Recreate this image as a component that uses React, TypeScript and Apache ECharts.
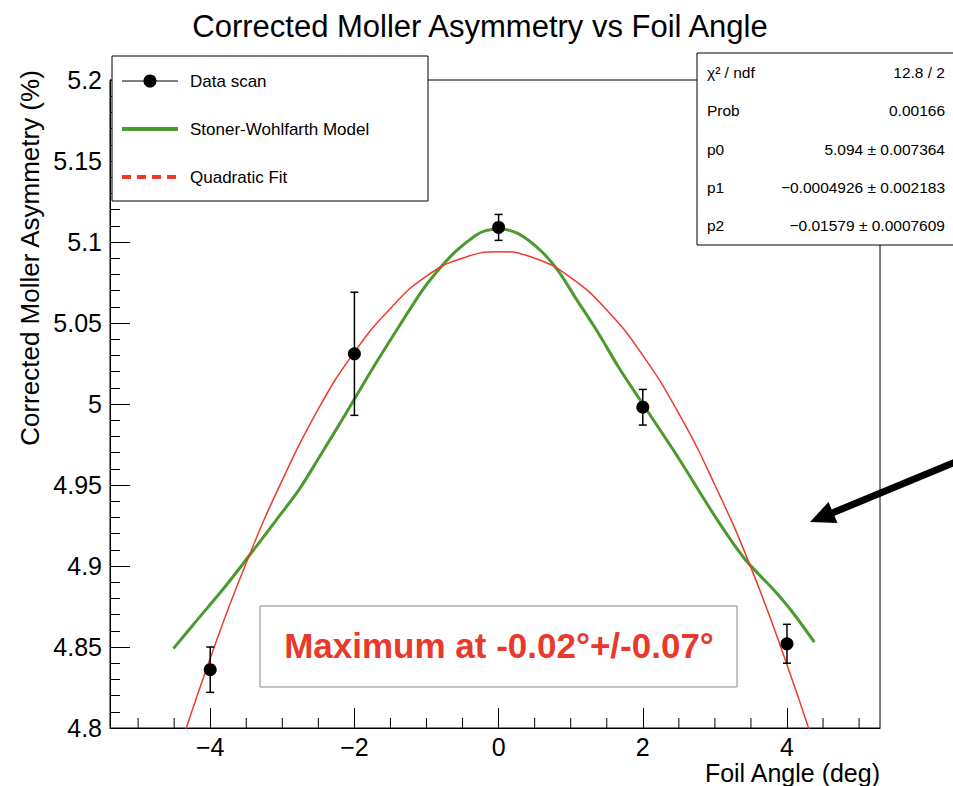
import React, { useEffect, useRef } from "react";
import * as echarts from "echarts";

// ---- data ----
const dataX = [-4, -2, 0, 2, 4];
const dataY = [4.836, 5.031, 5.109, 4.998, 4.852];
const dataErr = [0.014, 0.038, 0.008, 0.011, 0.012];

const modelX = [-4.51, -4.25, -3.78, -3.5, -3.09, -2.77, -2.49, -2.12, -1.76, -1.38, -1.06, -0.83, -0.6, -0.32, -0.18, 0, 0.28, 0.6, 0.83, 1.06, 1.38, 1.66, 2.0, 2.49, 3.04, 3.42, 3.78, 4.05, 4.38];
const modelY = [4.849, 4.863, 4.888, 4.904, 4.928, 4.947, 4.967, 4.994, 5.021, 5.048, 5.07, 5.083, 5.094, 5.104, 5.107, 5.108, 5.105, 5.094, 5.082, 5.066, 5.044, 5.023, 5.0, 4.967, 4.928, 4.904, 4.887, 4.873, 4.853];

const fitX = [-4.5, -4, -3.5, -3, -2.5, -2, -1.5, -1, -0.5, 0, 0.5, 1, 1.5, 2, 2.5, 3, 3.5, 4, 4.4];
const fitY = [4.777, 4.843, 4.902, 4.953, 4.997, 5.032, 5.059, 5.079, 5.09, 5.094, 5.09, 5.078, 5.058, 5.03, 4.994, 4.95, 4.899, 4.839, 4.786];

const xMinorTicks = [-5, -4.5, -3.5, -3, -2.5, -1.5, -1, -0.5, 0.5, 1, 1.5, 2.5, 3, 3.5, 4.5, 5];

const statLabels = ["χ² / ndf", "Prob", "p0", "p1", "p2"];
const statValues = ["12.8 / 2", "0.00166", "5.094 ± 0.007364", "−0.0004926 ± 0.002183", "−0.01579 ± 0.0007609"];

const legendLabels = ["Data scan", "Stoner-Wohlfarth Model", "Quadratic Fit"];

const TITLE = "Corrected Moller Asymmetry vs Foil Angle";
const X_TITLE = "Foil Angle (deg)";
const Y_TITLE = "Corrected Moller Asymmetry (%)";
const NOTE = "Maximum at -0.02°+/-0.07°";

const X_MIN = -5.39;
const X_MAX = 5.29;
const Y_MIN = 4.8;
const Y_MAX = 5.2;

const FONT = "'Liberation Sans', Arial, Helvetica, sans-serif";
const GREEN = "#4a9a2e";
const RED = "#ee3a2c";

export default function App() {
  const ref = useRef<HTMLDivElement>(null);

  useEffect(() => {
    if (!ref.current) return;
    const chart = echarts.init(ref.current, null, { renderer: "svg" });

    const fmtX = (v: number) => {
      const r = Math.round(v);
      if (Math.abs(v - r) > 1e-6 || r % 2 !== 0) return "";
      return r < 0 ? "\u2212" + Math.abs(r) : String(r);
    };
    const fmtY = (v: number) => String(parseFloat(v.toFixed(3)));

    const Z = 100;
    const txt = (text: string, x: number, y: number, font: string, align: string, valign: string, fill = "#000", rotation = 0) => ({
      type: "text",
      x,
      y,
      rotation,
      z: Z + 2,
      style: {
        text,
        font,
        fill,
        textAlign: align,
        align,
        textVerticalAlign: valign,
        verticalAlign: valign,
      },
    });

    const graphic: any[] = [];
    graphic.push(txt(TITLE, 480, 26, `31px ${FONT}`, "center", "middle"));
    graphic.push(txt(Y_TITLE, 30, 258, `26px ${FONT}`, "center", "middle", "#000", Math.PI / 2));
    graphic.push(txt(X_TITLE, 880, 773, `25px ${FONT}`, "right", "middle"));

    // legend box
    graphic.push({ type: "rect", z: Z, shape: { x: 112, y: 56, width: 316, height: 145 }, style: { fill: "#fff", stroke: "#000", lineWidth: 1 } });
    const legY = [81, 129, 177];
    graphic.push({ type: "line", z: Z + 1, shape: { x1: 122, y1: legY[0], x2: 178, y2: legY[0] }, style: { stroke: "#000", lineWidth: 1 } });
    graphic.push({ type: "circle", z: Z + 2, shape: { cx: 150, cy: legY[0], r: 6.5 }, style: { fill: "#000" } });
    graphic.push({ type: "line", z: Z + 1, shape: { x1: 122, y1: legY[1], x2: 178, y2: legY[1] }, style: { stroke: GREEN, lineWidth: 4 } });
    graphic.push({ type: "line", z: Z + 1, shape: { x1: 122, y1: legY[2], x2: 178, y2: legY[2] }, style: { stroke: RED, lineWidth: 4, lineDash: [9, 6] } });
    legendLabels.forEach((l, i) => graphic.push(txt(l, 190, legY[i], `17px ${FONT}`, "left", "middle")));

    // stats box
    graphic.push({ type: "rect", z: Z, shape: { x: 697, y: 53, width: 300, height: 192 }, style: { fill: "#fff", stroke: "#000", lineWidth: 1 } });
    statLabels.forEach((l, i) => {
      const y = 53 + (192 * (i + 0.5)) / 5;
      graphic.push(txt(l, 707, y, `15.5px ${FONT}`, "left", "middle"));
      graphic.push(txt(statValues[i], 945, y, `15.5px ${FONT}`, "right", "middle"));
    });

    // annotation box
    graphic.push({ type: "rect", z: Z, shape: { x: 260, y: 606, width: 477, height: 81 }, style: { fill: "#fff", stroke: "#888", lineWidth: 1 } });
    graphic.push(txt(NOTE, 499, 645, `bold 35px ${FONT}`, "center", "middle", "#e8392b"));

    // arrow
    graphic.push({ type: "line", z: Z, shape: { x1: 965, y1: 458, x2: 831, y2: 513.5 }, style: { stroke: "#000", lineWidth: 7 } });
    graphic.push({ type: "polygon", z: Z, shape: { points: [[810, 522], [828.5, 502], [837.5, 523]] }, style: { fill: "#000" } });

    const option: any = {
      animation: false,
      textStyle: { fontFamily: FONT },
      grid: { left: 110, top: 80, width: 770, height: 648, show: true, borderColor: "#000", borderWidth: 1, backgroundColor: "transparent" },
      xAxis: {
        type: "value",
        min: X_MIN,
        max: X_MAX,
        axisLine: { show: true, onZero: false, lineStyle: { color: "#000", width: 1 } },
        axisTick: { show: true, inside: true, length: 20, lineStyle: { color: "#000", width: 1 } },
        splitLine: { show: false },
        axisLabel: { fontSize: 25, color: "#000", margin: 6, formatter: fmtX, showMinLabel: false, showMaxLabel: false, fontFamily: FONT },
      },
      yAxis: {
        type: "value",
        min: Y_MIN,
        max: Y_MAX,
        interval: 0.05,
        axisLine: { show: true, onZero: false, lineStyle: { color: "#000", width: 1 } },
        axisTick: { show: true, inside: true, length: 20, lineStyle: { color: "#000", width: 1 } },
        minorTick: { show: true, splitNumber: 5, length: 10, lineStyle: { color: "#000", width: 1 } },
        splitLine: { show: false },
        minorSplitLine: { show: false },
        axisLabel: { fontSize: 25, color: "#000", margin: 8, formatter: fmtY, fontFamily: FONT },
      },
      series: [
        {
          type: "custom",
          name: "xminor",
          data: xMinorTicks.map((v) => [v, Y_MIN]),
          z: 1,
          silent: true,
          renderItem: (_p: any, api: any) => {
            const pt = api.coord([api.value(0), api.value(1)]);
            return { type: "line", shape: { x1: pt[0], y1: pt[1], x2: pt[0], y2: pt[1] - 10 }, style: { stroke: "#000", lineWidth: 1 } };
          },
        },
        {
          type: "line",
          name: "Stoner-Wohlfarth Model",
          data: modelX.map((x, i) => [x, modelY[i]]),
          showSymbol: false,
          symbol: "none",
          smooth: 0.3,
          lineStyle: { color: GREEN, width: 3 },
          z: 2,
        },
        {
          type: "line",
          name: "Quadratic Fit",
          data: fitX.map((x, i) => [x, fitY[i]]),
          showSymbol: false,
          symbol: "none",
          smooth: 0.5,
          clip: true,
          lineStyle: { color: RED, width: 1.5 },
          z: 3,
        },
        {
          type: "custom",
          name: "errors",
          data: dataX.map((x, i) => [x, dataY[i], dataErr[i]]),
          z: 4,
          renderItem: (_p: any, api: any) => {
            const x = api.value(0);
            const y = api.value(1);
            const e = api.value(2);
            const top = api.coord([x, y + e]);
            const bot = api.coord([x, y - e]);
            const st = { stroke: "#000", lineWidth: 1.5 };
            return {
              type: "group",
              children: [
                { type: "line", shape: { x1: top[0], y1: top[1], x2: bot[0], y2: bot[1] }, style: st },
                { type: "line", shape: { x1: top[0] - 4, y1: top[1], x2: top[0] + 4, y2: top[1] }, style: st },
                { type: "line", shape: { x1: bot[0] - 4, y1: bot[1], x2: bot[0] + 4, y2: bot[1] }, style: st },
              ],
            };
          },
        },
        {
          type: "scatter",
          name: "Data scan",
          data: dataX.map((x, i) => [x, dataY[i]]),
          symbol: "circle",
          symbolSize: 13,
          itemStyle: { color: "#000", opacity: 1 },
          z: 5,
        },
      ],
      graphic,
    };

    chart.setOption(option);
    return () => chart.dispose();
  }, []);

  return <div ref={ref} style={{ position: "fixed", left: 0, top: 0, width: 953, height: 786, background: "#fff" }} />;
}
